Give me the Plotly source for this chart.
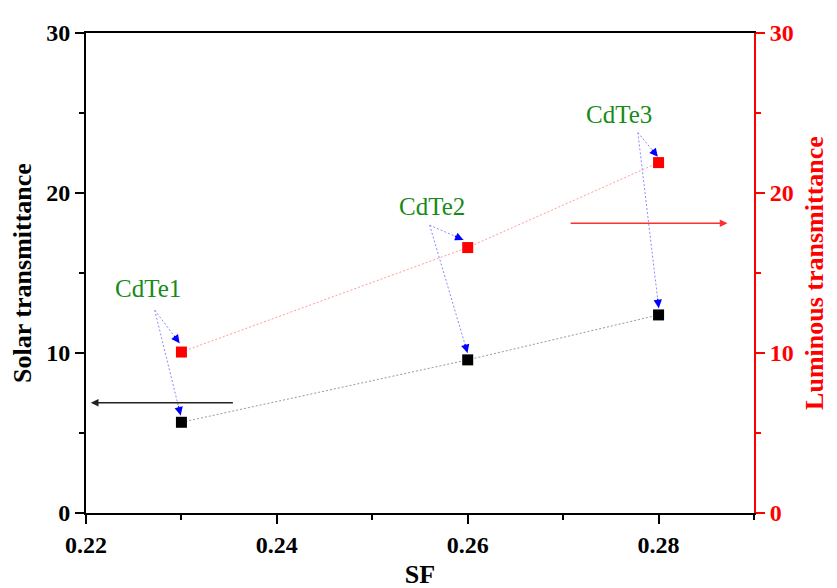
import plotly.graph_objects as go

sf = [0.23, 0.26, 0.28]
solar = [5.67, 9.57, 12.38]
luminous = [10.06, 16.59, 21.9]
labels = ["CdTe1", "CdTe2", "CdTe3"]

# label text positions (data coords), arrow start points and arrow tips
label_x = [0.22647, 0.25622, 0.27585]
label_y = [14.05, 19.15, 24.9]
start_x = [0.2272, 0.25601, 0.27783]
start_y = [12.68, 17.99, 23.78]
red_end_x = [0.22981, 0.25956, 0.27992]
red_end_y = [10.61, 17.07, 22.26]
blk_end_x = [0.22992, 0.25998, 0.28002]
blk_end_y = [6.10, 10.0, 12.80]

# axis-indicator arrows
solar_arrow_x = [0.23555, 0.2205]
solar_arrow_y = 6.89
lum_arrow_x = [0.27063, 0.28722]
lum_arrow_y = 18.11

FONT = "Liberation Serif, Times New Roman, serif"
X_RANGE = [0.22, 0.29]
Y_RANGE = [0, 30]
L, R, T, B, W, H = 75, 91, 13, 83, 837, 588
PX_X = (W - L - R) / (X_RANGE[1] - X_RANGE[0])
PX_Y = (H - T - B) / (Y_RANGE[1] - Y_RANGE[0])

fig = go.Figure()
fig.add_trace(go.Scatter(x=sf, y=solar, mode="lines+markers",
                         line=dict(color="#999999", width=1, dash="2px,2px"),
                         marker=dict(symbol="square", size=11, color="black"),
                         showlegend=False))
fig.add_trace(go.Scatter(x=sf, y=luminous, mode="lines+markers", yaxis="y2",
                         line=dict(color="#ff9a9a", width=1, dash="2px,2px"),
                         marker=dict(symbol="square", size=11, color="red"),
                         showlegend=False))

for i in range(3):
    fig.add_annotation(x=label_x[i], y=label_y[i], text=labels[i], showarrow=False,
                       font=dict(family=FONT, size=25, color="#178a17"))
    for ex, ey in [(red_end_x[i], red_end_y[i]), (blk_end_x[i], blk_end_y[i])]:
        fig.add_shape(type="line", x0=start_x[i], y0=start_y[i], x1=ex, y1=ey,
                      line=dict(color="#8a8aff", width=1, dash="2px,2px"))
        dxp = (start_x[i] - ex) * PX_X
        dyp = -(start_y[i] - ey) * PX_Y
        n = (dxp ** 2 + dyp ** 2) ** 0.5
        fig.add_annotation(x=ex, y=ey, ax=dxp / n * 11, ay=dyp / n * 11,
                           xref="x", yref="y", text="", showarrow=True,
                           arrowhead=2, arrowsize=1.4, arrowwidth=1.2,
                           arrowcolor="blue", standoff=0)

fig.add_annotation(x=solar_arrow_x[1], y=solar_arrow_y, ax=solar_arrow_x[0], ay=solar_arrow_y,
                   axref="x", ayref="y", xref="x", yref="y", text="", showarrow=True,
                   arrowhead=2, arrowsize=1.1, arrowwidth=1.4, arrowcolor="#222222", standoff=0)
fig.add_annotation(x=lum_arrow_x[1], y=lum_arrow_y, ax=lum_arrow_x[0], ay=lum_arrow_y,
                   axref="x", ayref="y2", xref="x", yref="y2", text="", showarrow=True,
                   arrowhead=2, arrowsize=1.1, arrowwidth=1.4, arrowcolor="#ff3030", standoff=0)

fig.update_layout(
    width=W, height=H,
    margin=dict(l=L, r=R, t=T, b=B),
    paper_bgcolor="white", plot_bgcolor="white",
    xaxis=dict(range=X_RANGE, tickvals=[0.22, 0.24, 0.26, 0.28],
               ticktext=["0.22", "0.24", "0.26", "0.28"],
               ticks="outside", ticklen=9, tickwidth=2, tickcolor="black",
               minor=dict(dtick=0.01, ticks="outside", ticklen=5, tickwidth=2, tickcolor="black"),
               showline=True, linecolor="black", linewidth=2, mirror=True,
               showgrid=False, zeroline=False,
               tickfont=dict(family=FONT, size=24, color="black", weight="bold"),
               title=dict(text="<b>SF</b>", font=dict(family=FONT, size=26, color="black"), standoff=8)),
    yaxis=dict(range=Y_RANGE, tickvals=[0, 10, 20, 30],
               ticks="outside", ticklen=9, tickwidth=2, tickcolor="black",
               minor=dict(dtick=5, ticks="outside", ticklen=5, tickwidth=2, tickcolor="black"),
               showline=True, linecolor="black", linewidth=2,
               showgrid=False, zeroline=False,
               tickfont=dict(family=FONT, size=24, color="black", weight="bold"),
               title=dict(text="<b>Solar transmittance</b>", font=dict(family=FONT, size=26, color="black"), standoff=8)),
    yaxis2=dict(range=Y_RANGE, tickvals=[0, 10, 20, 30], overlaying="y", side="right",
                ticks="outside", ticklen=9, tickwidth=2, tickcolor="red",
                minor=dict(dtick=5, ticks="outside", ticklen=5, tickwidth=2, tickcolor="red"),
                showline=True, linecolor="red", linewidth=2,
                showgrid=False, zeroline=False,
                tickfont=dict(family=FONT, size=24, color="red", weight="bold"),
                title=dict(text="<b>Luminous transmittance</b>", font=dict(family=FONT, size=26, color="red"), standoff=12)),
)

fig.write_html("out.html")
